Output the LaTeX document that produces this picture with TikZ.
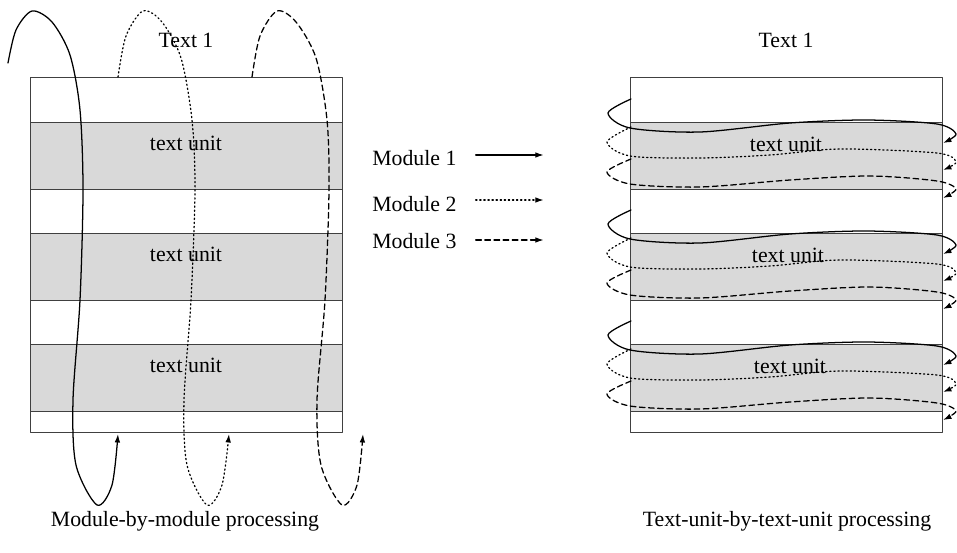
\documentclass[tikz,border=0pt]{standalone}
\usepackage{fontspec}
\setmainfont{Liberation Serif}
\usetikzlibrary{arrows.meta}

\begin{document}
\begin{tikzpicture}[x=0.025cm, y=-0.025cm, line cap=round, line join=round,
  >={Latex[length=6pt,width=4pt]}, font=\fontsize{15.5}{18}\selectfont]
  \definecolor{bandgray}{gray}{0.85}
  \tikzset{
    frame/.style={draw=black!75, line width=0.7pt},
    band/.style={frame, fill=bandgray},
    modA/.style={line width=0.9pt},
    modB/.style={line width=0.9pt, dotted},
    modC/.style={line width=0.9pt, dash pattern=on 4pt off 2.5pt},
    lbl/.style={inner sep=0pt}
  }
  \useasboundingbox (0,0) rectangle (957,552);

  % the two texts, each with three units
  \foreach \xo/\side in {0/L, 600/R} {
    \begin{scope}[shift={(\xo,0)}]
      \draw[frame] (30,77) rectangle (342,432);
      \foreach \t in {122,233,344}
        \draw[band] (30,\t) rectangle (342,\t+67);
    \end{scope}
  }
  \node[lbl] (textL) at (186,40) {Text 1};
  \node[lbl] (textR) at (786,40) {Text 1};
  \node[lbl] (unitL1) at (186,143) {text unit};
  \node[lbl] (unitL2) at (186,254) {text unit};
  \node[lbl] (unitL3) at (186,365) {text unit};
  \node[lbl] (unitR1) at (786,144) {text unit};
  \node[lbl] (unitR2) at (788,255) {text unit};
  \node[lbl] (unitR3) at (790,366) {text unit};

  % one pass over the whole text per module
  \draw[modA,->] plot[smooth] coordinates {(8,63) (16,30) (32,11) (52,22) (70,55)
    (80,110) (83,190) (80,300) (73,400) (76,465) (97,505) (112,485) (118,434)};
  \draw[modB,->] plot[smooth] coordinates {(118,77) (126,36) (143,11) (162,22) (181,58)
    (192,120) (195,190) (191,300) (184,400) (187,465) (207,505) (222,485) (229,434)};
  \draw[modC,->] plot[smooth] coordinates {(252,77) (260,36) (277,11) (296,22) (316,58)
    (327,120) (329,190) (325,300) (317,400) (321,465) (342,505) (357,485) (363,434)};

  % all modules over one unit before the next
  \foreach \dy in {0,111,222} {
    \begin{scope}[shift={(0,\dy)}]
      \draw[modA,->] plot[smooth] coordinates {(631,99) (608,113) (630,128) (700,132)
        (790,123) (867,120) (937,124) (956,134) (943,143)};
      \draw[modB,->] plot[smooth] coordinates {(631,127) (607,142) (630,156) (700,158)
        (770,155) (840,149) (937,153) (956,162) (943,170)};
      \draw[modC,->] plot[smooth] coordinates {(631,159) (607,172) (630,184) (700,187)
        (790,180) (870,176) (937,181) (956,189) (943,198)};
    \end{scope}
  }

  % legend
  \node[lbl, anchor=west] (mod1) at (372,158) {Module 1};
  \node[lbl, anchor=west] (mod2) at (372,204) {Module 2};
  \node[lbl, anchor=west] (mod3) at (372,241) {Module 3};
  \draw[modA,->] (mod1.east) ++(19,-3) -- ++(68,0);
  \draw[modB,->] (mod2.east) ++(19,-4) -- ++(68,0);
  \draw[modC,->] (mod3.east) ++(19,-1) -- ++(68,0);

  \node[lbl] (capL) at (185,521) {Module-by-module processing};
  \node[lbl] (capR) at (787,521) {Text-unit-by-text-unit processing};
\end{tikzpicture}
\end{document}
